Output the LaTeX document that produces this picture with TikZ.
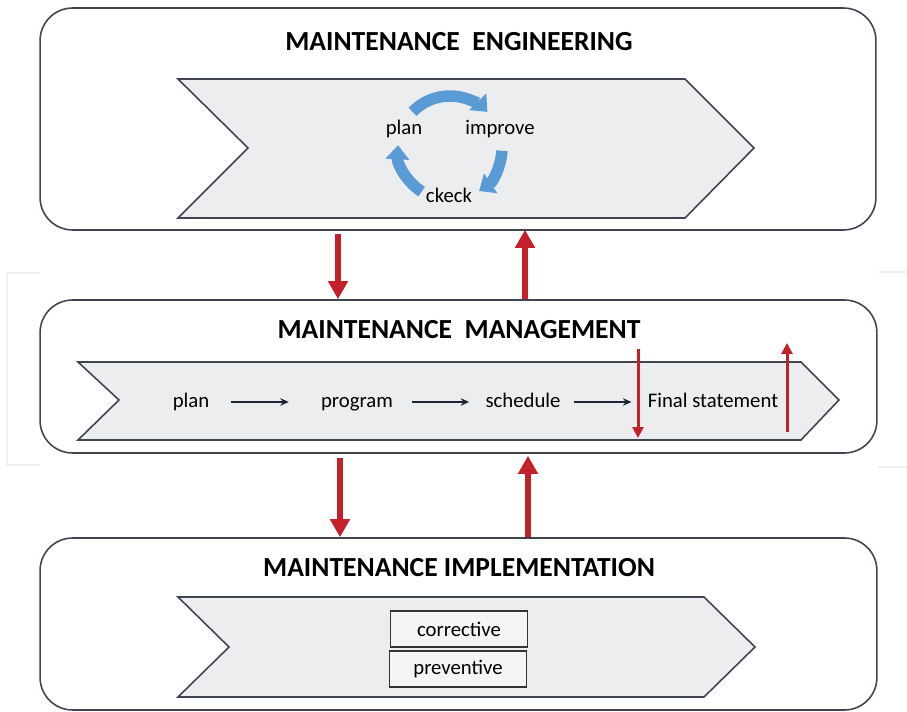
\documentclass[tikz,border=0pt]{standalone}
\usepackage{fontspec}
\setmainfont{Carlito}
\usetikzlibrary{arrows.meta,positioning}

\definecolor{edgegray}{HTML}{3E4550}
\definecolor{chevfill}{HTML}{ECEDEF}
\definecolor{arrowred}{HTML}{C42029}
\definecolor{cycleblue}{HTML}{5B9BD5}
\definecolor{itemink}{HTML}{1C2533}

\begin{document}
\begin{tikzpicture}[x=0.02cm, y=0.02cm,
  layer/.style={draw=edgegray, line width=0.9pt, rounded corners=0.65cm},
  chevron/.style={draw=edgegray, fill=chevfill, line width=0.9pt},
  heading/.style={font=\fontsize{15.7}{18}\selectfont\bfseries},
  item/.style={font=\fontsize{11.8}{14}\selectfont, inner sep=0pt, text height=1.7ex, text depth=0.5ex},
  kind/.style={draw=black!80, line width=1.1pt, fill=black!4, minimum width=2.74cm,
    minimum height=0.72cm, font=\fontsize{11.8}{14}\selectfont},
  link/.style={-{Stealth[length=0.17cm, width=0.15cm]}, line width=1.1pt, draw=itemink},
  bigred/.style={-{Triangle[length=0.36cm, width=0.38cm]}, line width=0.115cm, draw=arrowred},
  smallred/.style={-{Triangle[length=0.22cm, width=0.22cm]}, line width=0.06cm, draw=arrowred},
  turn/.style={-{Triangle[length=0.28cm, width=0.46cm]}, line width=0.23cm, draw=cycleblue},
]
  \useasboundingbox (0,0) rectangle (907,711);

  % faint frame behind the middle layer
  \draw[black!6, line width=1pt] (40,438) -- (7,438) -- (7,246) -- (40,246);
  \draw[black!6, line width=1pt] (878,439) -- (907,439) (878,244) -- (907,244);

  % the three layers
  \node[layer, minimum width=16.72cm, minimum height=4.44cm] (eng) at (458,592) {};
  \node[layer, minimum width=16.74cm, minimum height=3.06cm] (mgmt) at (458.5,334.5) {};
  \node[layer, minimum width=16.74cm, minimum height=3.44cm] (impl) at (458.5,87) {};

  \draw[chevron] (178,632) -- (685,632) -- (754,563) -- (685,493) -- (178,493) -- (248,563) -- cycle;
  \draw[chevron] (78,349) -- (801,349) -- (839,311) -- (801,271) -- (78,271) -- (119,311) -- cycle;
  \draw[chevron] (178,114) -- (704,114) -- (755,64) -- (704,14) -- (178,14) -- (229,64) -- cycle;

  \node[heading] (engtitle) at (459,669) {MAINTENANCE~~ENGINEERING};
  \node[heading] (mgmttitle) at (459,381) {MAINTENANCE~~MANAGEMENT};
  \node[heading] (impltitle) at (459,143) {MAINTENANCE IMPLEMENTATION};

  % improvement cycle
  \coordinate (cyc) at (450,563);
  \node[item] (cplan) at (404,582) {plan};
  \node[item] (cimprove) at (500,582) {improve};
  \node[item] (ccheck) at (449,514) {ckeck};
  \draw[turn] ([shift={(136:52)}]cyc) arc[start angle=136, end angle=44, radius=1.04cm];
  \draw[turn] ([shift={(-3:52)}]cyc) arc[start angle=-3, end angle=-56, radius=1.04cm];
  \draw[turn] ([shift={(-123:52)}]cyc) arc[start angle=-123, end angle=-183, radius=1.04cm];

  % management steps
  \node[item] (plan) at (191,309) {plan};
  \node[item] (program) at (357,309) {program};
  \node[item] (schedule) at (523,309) {schedule};
  \node[item] (final) at (713,309) {Final statement};
  \draw[link, shorten <=0.42cm, shorten >=0.64cm] (plan.east) -- (program.west);
  \draw[link, shorten <=0.38cm, shorten >=0.32cm] (program.east) -- (schedule.west);
  \draw[link, shorten <=0.26cm, shorten >=0.32cm] (schedule.east) -- (final.west);

  \coordinate (fsdowntop) at (638,362);
  \coordinate (fsdownend) at (638,273);
  \coordinate (fsupstart) at (787,279);
  \coordinate (fsupend) at (787,368);
  \draw[smallred] (fsdowntop) -- (fsdownend);
  \draw[smallred] (fsupstart) -- (fsupend);

  % implementation kinds
  \node[kind] (corrective) at (459,82) {corrective};
  \node[kind] (preventive) at (458,42) {preventive};

  % flows between the layers
  \coordinate (downA) at (338,0);
  \coordinate (upA) at (525,0);
  \coordinate (downB) at (340,0);
  \coordinate (upB) at (528,0);
  \draw[bigred] ([yshift=-0.06cm]eng.south -| downA) -- (mgmt.north -| downA);
  \draw[bigred] (mgmt.north -| upA) -- ([yshift=0.02cm]eng.south -| upA);
  \draw[bigred] ([yshift=-0.08cm]mgmt.south -| downB) -- (impl.north -| downB);
  \draw[bigred] (impl.north -| upB) -- ([yshift=-0.04cm]mgmt.south -| upB);
\end{tikzpicture}
\end{document}
